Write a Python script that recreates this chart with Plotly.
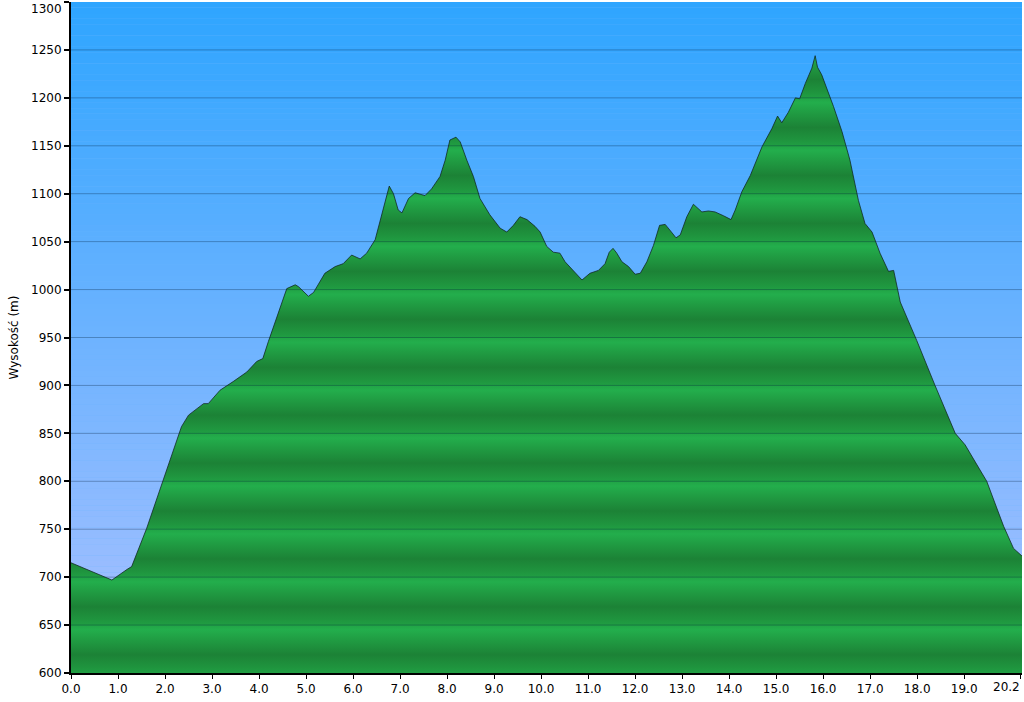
import plotly.graph_objects as go

# ---- data ----
distance_km = [0.00, 0.87, 1.19, 1.29, 1.61, 1.96, 2.18, 2.35, 2.50, 2.82, 2.92, 3.17, 3.45,
               3.74, 3.95, 4.08, 4.20, 4.38, 4.59, 4.77, 4.84, 5.05, 5.16, 5.40, 5.62, 5.79,
               5.97, 6.15, 6.29, 6.47, 6.64, 6.77, 6.86, 6.96, 7.04, 7.18, 7.32, 7.53, 7.67,
               7.85, 7.96, 8.06, 8.19, 8.28, 8.42, 8.56, 8.70, 8.91, 9.13, 9.27, 9.41, 9.55,
               9.70, 9.87, 9.98, 10.12, 10.26, 10.40, 10.51, 10.69, 10.87, 11.04, 11.22, 11.36,
               11.45, 11.53, 11.61, 11.72, 11.86, 12.00, 12.11, 12.25, 12.39, 12.52, 12.64,
               12.74, 12.87, 12.96, 13.10, 13.24, 13.42, 13.56, 13.70, 13.88, 14.04, 14.13,
               14.27, 14.45, 14.70, 14.91, 15.03, 15.12, 15.26, 15.41, 15.50, 15.62, 15.76,
               15.83, 15.88, 15.97, 16.11, 16.22, 16.40, 16.57, 16.75, 16.89, 17.04, 17.21,
               17.39, 17.50, 17.64, 17.99, 18.38, 18.81, 19.02, 19.48, 19.84, 20.05, 20.23]
elevation_m = [715, 697, 708, 711, 751, 801, 833, 857, 869, 881, 881, 895, 904,
               914, 925, 928, 946, 972, 1001, 1005, 1003, 993, 997, 1017, 1024, 1027,
               1036, 1032, 1038, 1052, 1083, 1108, 1100, 1083, 1080, 1095, 1101, 1098, 1105,
               1118, 1135, 1156, 1159, 1154, 1135, 1118, 1095, 1078, 1064, 1060, 1067, 1076,
               1073, 1066, 1060, 1045, 1039, 1038, 1029, 1020, 1010, 1017, 1020, 1027,
               1039, 1043, 1038, 1029, 1024, 1016, 1017, 1029, 1046, 1067, 1068,
               1062, 1054, 1057, 1076, 1089, 1081, 1082, 1081, 1077, 1073, 1083,
               1102, 1119, 1149, 1168, 1181, 1174, 1185, 1200, 1199, 1215, 1231,
               1244, 1232, 1224, 1206, 1191, 1165, 1135, 1093, 1069, 1060, 1038,
               1019, 1020, 987, 947, 900, 850, 838, 800, 753, 730, 722]

x_tick_values = [0, 1, 2, 3, 4, 5, 6, 7, 8, 9, 10, 11, 12, 13, 14, 15, 16, 17, 18, 19, 20.2]
x_tick_labels = ["0.0", "1.0", "2.0", "3.0", "4.0", "5.0", "6.0", "7.0", "8.0", "9.0", "10.0",
                 "11.0", "12.0", "13.0", "14.0", "15.0", "16.0", "17.0", "18.0", "19.0", "20.2"]
y_tick_values = [600, 650, 700, 750, 800, 850, 900, 950, 1000, 1050, 1100, 1150, 1200, 1250, 1300]
y_title = "Wysokość (m)"

Y_MIN, Y_MAX = 600, 1300
X_MAX = 20.23
BAND = 50

# ---- banded green fill gradient ----
band_pattern = [  # (relative position in a 50 m band, rgb)
    (0.00, (32, 158, 67)),
    (0.12, (31, 148, 62)),
    (0.38, (28, 130, 54)),
    (0.68, (32, 155, 66)),
    (0.90, (35, 174, 76)),
    (0.999, (33, 164, 70)),
]
n_bands = int((Y_MAX - Y_MIN) / BAND)
colorscale = []
for b in range(n_bands):
    for rel, (r, g, bl) in band_pattern:
        pos = (b + rel) / n_bands
        colorscale.append([min(pos, 1.0), f"rgb({r},{g},{bl})"])
colorscale[-1][0] = 1.0

fig = go.Figure()
fig.add_trace(go.Scatter(
    x=distance_km, y=elevation_m, mode="lines", fill="tozeroy",
    line=dict(color="rgba(15,35,30,0.75)", width=1),
    fillgradient=dict(type="vertical", colorscale=colorscale, start=Y_MIN, stop=Y_MAX),
    hoverinfo="skip", showlegend=False,
))

# ---- sky background gradient (shapes, below grid) ----
shapes = []
n_strips = 120
top_rgb = (46, 165, 255)
bot_rgb = (172, 193, 255)
for i in range(n_strips):
    f = (i + 0.5) / n_strips  # 0 bottom -> 1 top
    c = tuple(round(bot_rgb[k] + (top_rgb[k] - bot_rgb[k]) * f) for k in range(3))
    shapes.append(dict(type="rect", xref="paper", yref="paper", x0=0, x1=1,
                       y0=i / n_strips, y1=min(1, (i + 1.02) / n_strips),
                       fillcolor=f"rgb{c}", line=dict(width=0), layer="below"))
# grid lines above the area
for v in y_tick_values[1:-1]:
    shapes.append(dict(type="line", xref="paper", yref="y", x0=0, x1=1, y0=v, y1=v,
                       line=dict(color="rgba(0,30,60,0.32)", width=1), layer="above"))

annotations = [
    dict(text="1300", xref="paper", yref="y", x=0, y=Y_MAX, xanchor="right", yanchor="top",
         xshift=-7, yshift=2, showarrow=False, font=dict(family="DejaVu Sans", size=12, color="black")),
    dict(text="20.2", xref="x", yref="paper", x=20.2, y=0, xanchor="right", yanchor="top",
         xshift=1, yshift=-5, showarrow=False, font=dict(family="DejaVu Sans", size=12, color="black")),
]
x_tick_text = list(x_tick_labels)
x_tick_text[-1] = ""
y_tick_text = [str(v) for v in y_tick_values]
y_tick_text[-1] = ""

fig.update_layout(
    width=1024, height=702,
    margin=dict(l=71, r=2, t=2, b=29, autoexpand=False),
    paper_bgcolor="white", plot_bgcolor="rgb(110,180,255)",
    font=dict(family="DejaVu Sans", size=12, color="black"),
    shapes=shapes, annotations=annotations,
    xaxis=dict(range=[0, X_MAX], tickmode="array", tickvals=x_tick_values, ticktext=x_tick_text,
               showgrid=False, zeroline=False, showline=True, linecolor="black", linewidth=2,
               ticks="outside", ticklen=4, tickwidth=1, tickcolor="black", layer="above traces"),
    yaxis=dict(range=[Y_MIN, Y_MAX], tickmode="array", tickvals=y_tick_values, ticktext=y_tick_text,
               showgrid=False, zeroline=False, showline=True, linecolor="black", linewidth=2,
               ticks="outside", ticklen=5, tickwidth=2, tickcolor="black", layer="above traces",
               title=dict(text=y_title, standoff=10, font=dict(size=12))),
)

fig.write_html("out.html", config={"displayModeBar": False},
               post_script="document.body.style.margin='0';document.body.style.padding='0';")
